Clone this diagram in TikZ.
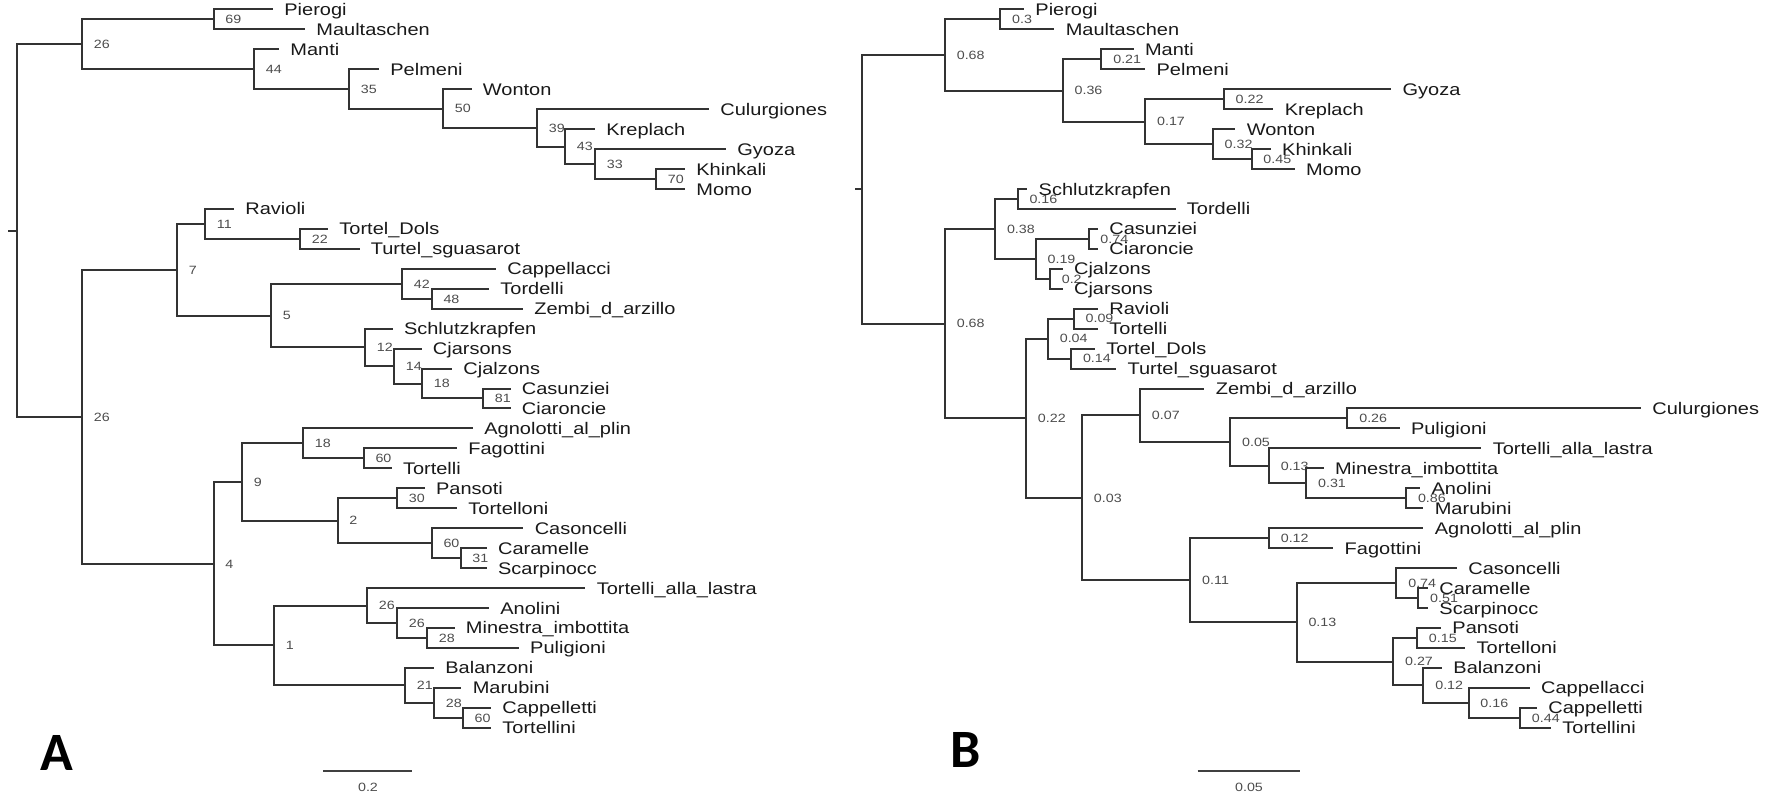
\documentclass[tikz,border=0pt]{standalone}
\usepackage{fontspec}
\setmainfont{Liberation Sans}
\newfontfamily\treefont[FakeStretch=1.19]{Liberation Sans}
\newfontfamily\panelfont{Carlito}
\usetikzlibrary{positioning}
\newcommand*\leafnode[4]{\coordinate (#1) at (#2,#3);
	\node (#1text) [leaf, right=5.5pt of #1] {#4};}
\newcommand*\splitnode[4]{\coordinate (#1) at (#2,#3);
	\node (#1text) [support, right=5.75pt of #1] {#4};}
\tikzset{
	leaf/.style={inner sep=0pt, text height=6pt, text depth=0pt, text=black!90,
		font=\treefont\fontsize{8.4pt}{9pt}\selectfont},
	support/.style={inner sep=0pt, text height=4.3pt, text depth=0pt, text=black!70,
		font=\treefont\fontsize{6pt}{7pt}\selectfont},
	branch/.style={draw=black!80, line width=1pt, to path={|- (\tikztotarget)}},
	scalebar/.style={draw=black!75, line width=1pt},
	panel/.style={inner sep=0pt, anchor=base west,
		font=\panelfont\bfseries\fontsize{27pt}{30pt}\selectfont}
}

\begin{document}
\begin{tikzpicture}[x=0.5pt,y=-0.5pt]
	\useasboundingbox (0,0) rectangle (1770,795);

	\coordinate (roota) at (17,230.6);
	\coordinate (rootastub) at (8,230.6);
	\splitnode{a26top}{82}{44.35}{26}
	\splitnode{a69}{213.5}{19.5}{69}
	\splitnode{a44}{254}{69.2}{44}
	\splitnode{a35}{349}{89.0}{35}
	\splitnode{a50}{443}{108.6}{50}
	\splitnode{a39}{537}{127.9}{39}
	\splitnode{a43}{565}{146.6}{43}
	\splitnode{a33}{595}{164.1}{33}
	\splitnode{a70}{656}{179.1}{70}
	\splitnode{a26bot}{82}{416.8}{26}
	\splitnode{a7}{177}{269.8}{7}
	\splitnode{a11}{205}{224.0}{11}
	\splitnode{a22}{300}{238.9}{22}
	\splitnode{a5}{271}{315.6}{5}
	\splitnode{a42}{402}{283.8}{42}
	\splitnode{a48}{431.6}{298.8}{48}
	\splitnode{a12}{365}{347.4}{12}
	\splitnode{a14}{394}{366.1}{14}
	\splitnode{a18}{422}{383.6}{18}
	\splitnode{a81}{483}{398.5}{81}
	\splitnode{a4}{213.5}{563.8}{4}
	\splitnode{a9}{242}{482.1}{9}
	\splitnode{a18low}{303}{443.4}{18}
	\splitnode{a60top}{363.6}{458.4}{60}
	\splitnode{a2}{337.5}{520.7}{2}
	\splitnode{a30}{397}{498.3}{30}
	\splitnode{a60mid}{431.6}{543.2}{60}
	\splitnode{a31}{460.5}{558.1}{31}
	\splitnode{a1}{274}{645.4}{1}
	\splitnode{a26c}{367}{605.5}{26}
	\splitnode{a26d}{397}{623.0}{26}
	\splitnode{a28}{427}{637.9}{28}
	\splitnode{a21}{405}{685.3}{21}
	\splitnode{a28low}{434}{702.8}{28}
	\splitnode{a60low}{462.8}{717.7}{60}

	\leafnode{apierogi}{273}{9.5}{Pierogi}
	\leafnode{amaultaschen}{305}{29.45}{Maultaschen}
	\leafnode{amanti}{279}{49.4}{Manti}
	\leafnode{apelmeni}{379}{69.35}{Pelmeni}
	\leafnode{awonton}{471.5}{89.3}{Wonton}
	\leafnode{aculurgiones}{709}{109.25}{Culurgiones}
	\leafnode{akreplach}{595}{129.2}{Kreplach}
	\leafnode{agyoza}{726}{149.15}{Gyoza}
	\leafnode{akhinkali}{685}{169.1}{Khinkali}
	\leafnode{amomo}{685}{189.05}{Momo}
	\leafnode{aravioli}{234}{209}{Ravioli}
	\leafnode{atorteldols}{328}{228.95}{Tortel\_Dols}
	\leafnode{aturtel}{359.5}{248.9}{Turtel\_sguasarot}
	\leafnode{acappellacci}{496}{268.85}{Cappellacci}
	\leafnode{atordelli}{489}{288.8}{Tordelli}
	\leafnode{azembi}{523}{308.75}{Zembi\_d\_arzillo}
	\leafnode{aschlutz}{392.6}{328.7}{Schlutzkrapfen}
	\leafnode{acjarsons}{421.5}{348.65}{Cjarsons}
	\leafnode{acjalzons}{452}{368.6}{Cjalzons}
	\leafnode{acasunziei}{510.5}{388.55}{Casunziei}
	\leafnode{aciaroncie}{510.5}{408.5}{Ciaroncie}
	\leafnode{aagnolotti}{473}{428.45}{Agnolotti\_al\_plin}
	\leafnode{afagottini}{457}{448.4}{Fagottini}
	\leafnode{atortelli}{391.6}{468.35}{Tortelli}
	\leafnode{apansoti}{424.7}{488.3}{Pansoti}
	\leafnode{atortelloni}{457}{508.25}{Tortelloni}
	\leafnode{acasoncelli}{523.4}{528.2}{Casoncelli}
	\leafnode{acaramelle}{486.7}{548.15}{Caramelle}
	\leafnode{ascarpinocc}{486.7}{568.1}{Scarpinocc}
	\leafnode{alastra}{585.4}{588.05}{Tortelli\_alla\_lastra}
	\leafnode{aanolini}{489}{608}{Anolini}
	\leafnode{aminestra}{454.5}{627.95}{Minestra\_imbottita}
	\leafnode{apuligioni}{518.8}{647.9}{Puligioni}
	\leafnode{abalanzoni}{434}{667.85}{Balanzoni}
	\leafnode{amarubini}{461.4}{687.8}{Marubini}
	\leafnode{acappelletti}{491}{707.75}{Cappelletti}
	\leafnode{atortellini}{491}{727.7}{Tortellini}

	\path (rootastub) edge[branch] (roota);
	\path (roota) edge[branch] (a26top) edge[branch] (a26bot);
	\path (a26top) edge[branch] (a69) edge[branch] (a44);
	\path (a69) edge[branch] (apierogi) edge[branch] (amaultaschen);
	\path (a44) edge[branch] (amanti) edge[branch] (a35);
	\path (a35) edge[branch] (apelmeni) edge[branch] (a50);
	\path (a50) edge[branch] (awonton) edge[branch] (a39);
	\path (a39) edge[branch] (aculurgiones) edge[branch] (a43);
	\path (a43) edge[branch] (akreplach) edge[branch] (a33);
	\path (a33) edge[branch] (agyoza) edge[branch] (a70);
	\path (a70) edge[branch] (akhinkali) edge[branch] (amomo);
	\path (a26bot) edge[branch] (a7) edge[branch] (a4);
	\path (a7) edge[branch] (a11) edge[branch] (a5);
	\path (a11) edge[branch] (aravioli) edge[branch] (a22);
	\path (a22) edge[branch] (atorteldols) edge[branch] (aturtel);
	\path (a5) edge[branch] (a42) edge[branch] (a12);
	\path (a42) edge[branch] (acappellacci) edge[branch] (a48);
	\path (a48) edge[branch] (atordelli) edge[branch] (azembi);
	\path (a12) edge[branch] (aschlutz) edge[branch] (a14);
	\path (a14) edge[branch] (acjarsons) edge[branch] (a18);
	\path (a18) edge[branch] (acjalzons) edge[branch] (a81);
	\path (a81) edge[branch] (acasunziei) edge[branch] (aciaroncie);
	\path (a4) edge[branch] (a9) edge[branch] (a1);
	\path (a9) edge[branch] (a18low) edge[branch] (a2);
	\path (a18low) edge[branch] (aagnolotti) edge[branch] (a60top);
	\path (a60top) edge[branch] (afagottini) edge[branch] (atortelli);
	\path (a2) edge[branch] (a30) edge[branch] (a60mid);
	\path (a30) edge[branch] (apansoti) edge[branch] (atortelloni);
	\path (a60mid) edge[branch] (acasoncelli) edge[branch] (a31);
	\path (a31) edge[branch] (acaramelle) edge[branch] (ascarpinocc);
	\path (a1) edge[branch] (a26c) edge[branch] (a21);
	\path (a26c) edge[branch] (alastra) edge[branch] (a26d);
	\path (a26d) edge[branch] (aanolini) edge[branch] (a28);
	\path (a28) edge[branch] (aminestra) edge[branch] (apuligioni);
	\path (a21) edge[branch] (abalanzoni) edge[branch] (a28low);
	\path (a28low) edge[branch] (amarubini) edge[branch] (a60low);
	\path (a60low) edge[branch] (acappelletti) edge[branch] (atortellini);

	\coordinate (rootb) at (861.8,189.3);
	\coordinate (rootbstub) at (855,189.3);
	\splitnode{b068top}{944.9}{55.0}{0.68}
	\splitnode{b03}{1000.3}{19.5}{0.3}
	\splitnode{b036}{1062.7}{90.6}{0.36}
	\splitnode{b021}{1101.4}{59.4}{0.21}
	\splitnode{b017}{1145.2}{121.7}{0.17}
	\splitnode{b022}{1223.8}{99.3}{0.22}
	\splitnode{b032}{1212.8}{144.2}{0.32}
	\splitnode{b045}{1251.5}{159.1}{0.45}
	\splitnode{b068low}{944.9}{323.6}{0.68}
	\splitnode{b038}{995.1}{228.9}{0.38}
	\splitnode{b016}{1017.6}{199.0}{0.16}
	\splitnode{b019}{1035.7}{258.9}{0.19}
	\splitnode{b074}{1088.5}{238.9}{0.74}
	\splitnode{b02}{1049.9}{278.8}{0.2}
	\splitnode{b022low}{1026}{418.3}{0.22}
	\splitnode{b004}{1047.9}{338.7}{0.04}
	\splitnode{b009}{1073.7}{318.7}{0.09}
	\splitnode{b014}{1071.1}{358.6}{0.14}
	\splitnode{b003}{1082}{497.9}{0.03}
	\splitnode{b007}{1140}{415.4}{0.07}
	\splitnode{b005}{1230.2}{442.2}{0.05}
	\splitnode{b026}{1347.4}{418.5}{0.26}
	\splitnode{b013}{1268.9}{465.9}{0.13}
	\splitnode{b031}{1306.2}{483.3}{0.31}
	\splitnode{b086}{1406.1}{498.3}{0.86}
	\splitnode{b011}{1190.3}{580.3}{0.11}
	\splitnode{b012}{1268.9}{538.2}{0.12}
	\splitnode{b013low}{1296.6}{622.4}{0.13}
	\splitnode{b074low}{1396.4}{583.1}{0.74}
	\splitnode{b051}{1418.3}{598.0}{0.51}
	\splitnode{b027}{1393.2}{661.6}{0.27}
	\splitnode{b015}{1417}{637.9}{0.15}
	\splitnode{b012low}{1423.4}{685.3}{0.12}
	\splitnode{b016low}{1468.5}{702.8}{0.16}
	\splitnode{b044}{1520}{717.7}{0.44}

	\leafnode{bpierogi}{1024}{9.5}{Pierogi}
	\leafnode{bmaultaschen}{1054.4}{29.45}{Maultaschen}
	\leafnode{bmanti}{1133.6}{49.4}{Manti}
	\leafnode{bpelmeni}{1145.2}{69.35}{Pelmeni}
	\leafnode{bgyoza}{1391.2}{89.3}{Gyoza}
	\leafnode{bkreplach}{1273.4}{109.25}{Kreplach}
	\leafnode{bwonton}{1235.4}{129.2}{Wonton}
	\leafnode{bkhinkali}{1270.8}{149.15}{Khinkali}
	\leafnode{bmomo}{1294.6}{169.1}{Momo}
	\leafnode{bschlutz}{1027.3}{189.05}{Schlutzkrapfen}
	\leafnode{btordelli}{1175.5}{209}{Tordelli}
	\leafnode{bcasunziei}{1098}{228.95}{Casunziei}
	\leafnode{bciaroncie}{1098}{248.9}{Ciaroncie}
	\leafnode{bcjalzons}{1062.7}{268.85}{Cjalzons}
	\leafnode{bcjarsons}{1062.7}{288.8}{Cjarsons}
	\leafnode{bravioli}{1098}{308.75}{Ravioli}
	\leafnode{btortelli}{1098}{328.7}{Tortelli}
	\leafnode{btorteldols}{1095}{348.65}{Tortel\_Dols}
	\leafnode{bturtel}{1116.2}{368.6}{Turtel\_sguasarot}
	\leafnode{bzembi}{1204.4}{388.55}{Zembi\_d\_arzillo}
	\leafnode{bculurgiones}{1641}{408.5}{Culurgiones}
	\leafnode{bpuligioni}{1399.6}{428.45}{Puligioni}
	\leafnode{blastra}{1481.4}{448.4}{Tortelli\_alla\_lastra}
	\leafnode{bminestra}{1323.6}{468.35}{Minestra\_imbottita}
	\leafnode{banolini}{1420.2}{488.3}{Anolini}
	\leafnode{bmarubini}{1423.4}{508.25}{Marubini}
	\leafnode{bagnolotti}{1423.4}{528.2}{Agnolotti\_al\_plin}
	\leafnode{bfagottini}{1333.3}{548.15}{Fagottini}
	\leafnode{bcasoncelli}{1457}{568.1}{Casoncelli}
	\leafnode{bcaramelle}{1428}{588.05}{Caramelle}
	\leafnode{bscarpinocc}{1428}{608}{Scarpinocc}
	\leafnode{bpansoti}{1441}{627.95}{Pansoti}
	\leafnode{btortelloni}{1465.3}{647.9}{Tortelloni}
	\leafnode{bbalanzoni}{1442}{667.85}{Balanzoni}
	\leafnode{bcappellacci}{1529.7}{687.8}{Cappellacci}
	\leafnode{bcappelletti}{1537}{707.75}{Cappelletti}
	\leafnode{btortellini}{1551}{727.7}{Tortellini}

	\path (rootbstub) edge[branch] (rootb);
	\path (rootb) edge[branch] (b068top) edge[branch] (b068low);
	\path (b068top) edge[branch] (b03) edge[branch] (b036);
	\path (b03) edge[branch] (bpierogi) edge[branch] (bmaultaschen);
	\path (b036) edge[branch] (b021) edge[branch] (b017);
	\path (b021) edge[branch] (bmanti) edge[branch] (bpelmeni);
	\path (b017) edge[branch] (b022) edge[branch] (b032);
	\path (b022) edge[branch] (bgyoza) edge[branch] (bkreplach);
	\path (b032) edge[branch] (bwonton) edge[branch] (b045);
	\path (b045) edge[branch] (bkhinkali) edge[branch] (bmomo);
	\path (b068low) edge[branch] (b038) edge[branch] (b022low);
	\path (b038) edge[branch] (b016) edge[branch] (b019);
	\path (b016) edge[branch] (bschlutz) edge[branch] (btordelli);
	\path (b019) edge[branch] (b074) edge[branch] (b02);
	\path (b074) edge[branch] (bcasunziei) edge[branch] (bciaroncie);
	\path (b02) edge[branch] (bcjalzons) edge[branch] (bcjarsons);
	\path (b022low) edge[branch] (b004) edge[branch] (b003);
	\path (b004) edge[branch] (b009) edge[branch] (b014);
	\path (b009) edge[branch] (bravioli) edge[branch] (btortelli);
	\path (b014) edge[branch] (btorteldols) edge[branch] (bturtel);
	\path (b003) edge[branch] (b007) edge[branch] (b011);
	\path (b007) edge[branch] (bzembi) edge[branch] (b005);
	\path (b005) edge[branch] (b026) edge[branch] (b013);
	\path (b026) edge[branch] (bculurgiones) edge[branch] (bpuligioni);
	\path (b013) edge[branch] (blastra) edge[branch] (b031);
	\path (b031) edge[branch] (bminestra) edge[branch] (b086);
	\path (b086) edge[branch] (banolini) edge[branch] (bmarubini);
	\path (b011) edge[branch] (b012) edge[branch] (b013low);
	\path (b012) edge[branch] (bagnolotti) edge[branch] (bfagottini);
	\path (b013low) edge[branch] (b074low) edge[branch] (b027);
	\path (b074low) edge[branch] (bcasoncelli) edge[branch] (b051);
	\path (b051) edge[branch] (bcaramelle) edge[branch] (bscarpinocc);
	\path (b027) edge[branch] (b015) edge[branch] (b012low);
	\path (b015) edge[branch] (bpansoti) edge[branch] (btortelloni);
	\path (b012low) edge[branch] (bbalanzoni) edge[branch] (b016low);
	\path (b016low) edge[branch] (bcappellacci) edge[branch] (b044);
	\path (b044) edge[branch] (bcappelletti) edge[branch] (btortellini);

	\node (panela) [panel] at (40,770.7) {A};
	\node (panelb) [panel] at (950.5,767) {B};
	\coordinate (scalealeft) at (323.3,770.7);
	\coordinate (scalearight) at (412.3,770.7);
	\path (scalealeft) edge[scalebar] (scalearight);
	\node (scalealabel) [support] at (368,786.7) {0.2};
	\coordinate (scaleblleft) at (1197.7,771.3);
	\coordinate (scaleblright) at (1300,771.3);
	\path (scaleblleft) edge[scalebar] (scaleblright);
	\node (scaleblabel) [support] at (1249,786.7) {0.05};
\end{tikzpicture}
\end{document}
